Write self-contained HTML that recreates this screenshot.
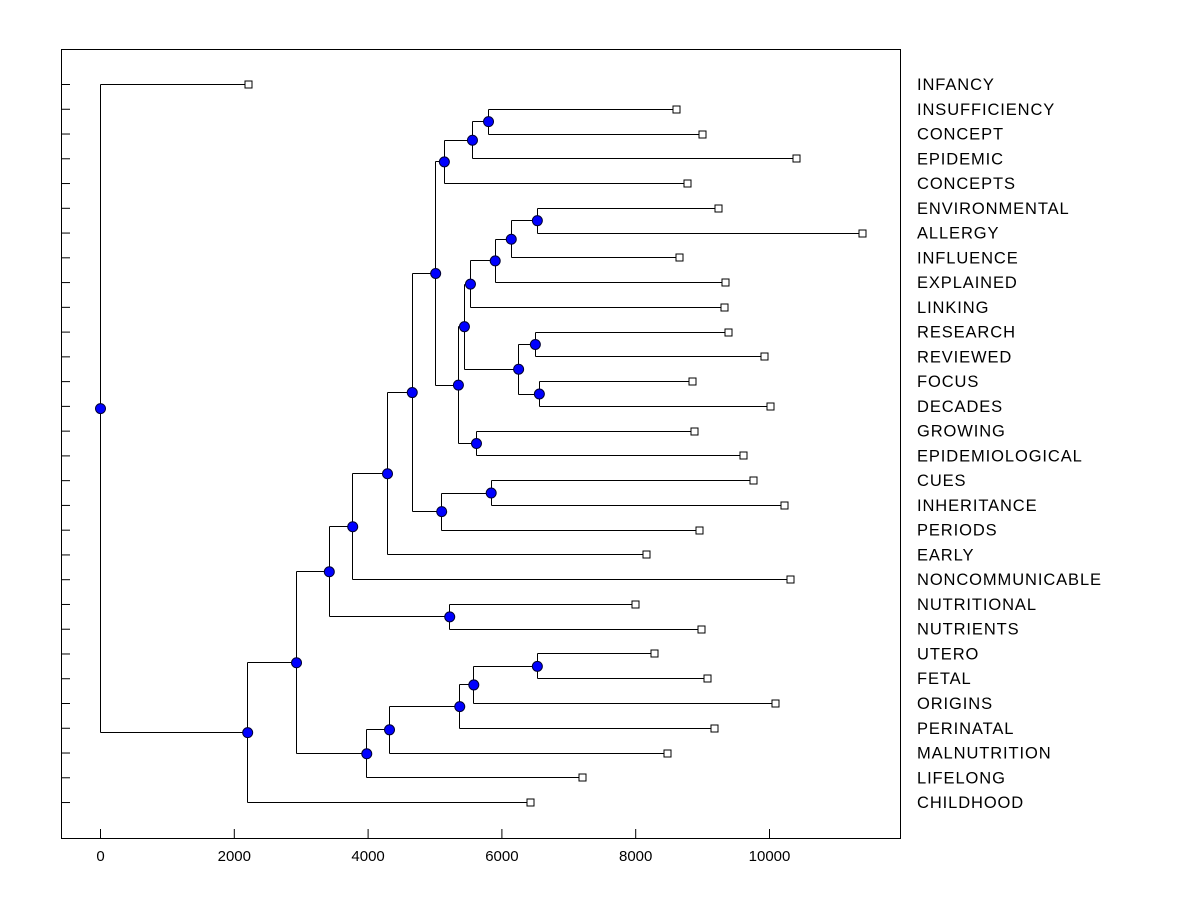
<!DOCTYPE html>
<html><head><meta charset="utf-8"><style>
body{margin:0;background:#fff;}
svg{display:block;font-family:"Liberation Sans",Arial,sans-serif;}
</style></head><body>
<svg id="chart" width="1200" height="900" viewBox="0 0 1200 900">
<rect x="61.5" y="49.5" width="839" height="789" fill="#fff" stroke="#000" stroke-width="1"/>
<g id="g"></g>
</svg>
<script>
const leaves = ["INFANCY","INSUFFICIENCY","CONCEPT","EPIDEMIC","CONCEPTS","ENVIRONMENTAL","ALLERGY","INFLUENCE","EXPLAINED","LINKING","RESEARCH","REVIEWED","FOCUS","DECADES","GROWING","EPIDEMIOLOGICAL","CUES","INHERITANCE","PERIODS","EARLY","NONCOMMUNICABLE","NUTRITIONAL","NUTRIENTS","UTERO","FETAL","ORIGINS","PERINATAL","MALNUTRITION","LIFELONG","CHILDHOOD"];
const leafValues = [2212,8610,9000,10400,8770,9240,11390,8650,9340,9330,9390,9930,8850,10010,8880,9610,9760,10220,8950,8160,10310,8000,8980,8280,9070,10090,9180,8480,7200,6430];
const nodeNames = ["N","M","K","U","T","S","Q","V","W","R","O","P","L","I","X","J","H","G","E","F","C","AB","AA","Z","Y","D","B","A","root"];
const nodeHeights = [5800,5560,5140,6530,6140,5900,5530,6500,6560,6250,5440,5620,5350,5010,5840,5100,4660,4290,3770,5220,3420,6530,5580,5370,4320,3980,2930,2200,0];
const nodeChildren = [["INSUFFICIENCY","CONCEPT"],["N","EPIDEMIC"],["M","CONCEPTS"],["ENVIRONMENTAL","ALLERGY"],["U","INFLUENCE"],["T","EXPLAINED"],["S","LINKING"],["RESEARCH","REVIEWED"],["FOCUS","DECADES"],["V","W"],["Q","R"],["GROWING","EPIDEMIOLOGICAL"],["O","P"],["K","L"],["CUES","INHERITANCE"],["X","PERIODS"],["I","J"],["H","EARLY"],["G","NONCOMMUNICABLE"],["NUTRITIONAL","NUTRIENTS"],["E","F"],["UTERO","FETAL"],["AB","ORIGINS"],["AA","PERINATAL"],["Z","MALNUTRITION"],["Y","LIFELONG"],["C","D"],["B","CHILDHOOD"],["INFANCY","A"]];
const xTicks = [0,2000,4000,6000,8000,10000];

const NS="http://www.w3.org/2000/svg";
const g=document.getElementById('g');
const xs=v=>100+v*0.0669;
const ys=i=>84+i*24.76;
function el(t,a){const e=document.createElementNS(NS,t);for(const k in a)e.setAttribute(k,a[k]);g.appendChild(e);return e;}
const pos={};
leaves.forEach((n,i)=>{pos[n]={x:xs(leafValues[i]),y:ys(i)};});
nodeNames.forEach((n,i)=>{const [a,b]=nodeChildren[i];pos[n]={x:xs(nodeHeights[i]),y:(pos[a].y+pos[b].y)/2};});
leaves.forEach((n,i)=>{
  const t=el('line',{x1:61,x2:70,y1:ys(i)+0.5,y2:ys(i)+0.5,stroke:'#000'});
  
  
  const l=el('text',{x:917,y:ys(i)+6,'font-size':16.5,'letter-spacing':'0.9',fill:'#000'});l.textContent=n;
  
  
});
xTicks.forEach(v=>{
  const t=el('line',{x1:xs(v)+0.5,x2:xs(v)+0.5,y1:829,y2:838,stroke:'#000'});
  
  
  const l=el('text',{x:xs(v)+0.5,y:861,'font-size':15,'text-anchor':'middle',fill:'#000'});l.textContent=v;
  
  
});
nodeNames.forEach((n,i)=>{
  const p=pos[n];const [a,b]=nodeChildren[i];
  const v=el('line',{x1:Math.round(p.x)+0.5,x2:Math.round(p.x)+0.5,y1:Math.round(pos[a].y)+0.5,y2:Math.round(pos[b].y)+0.5,stroke:'#000'});
  
  
  [a,b].forEach(c=>{
    const h=el('line',{x1:Math.round(p.x)+0.5,x2:Math.round(pos[c].x)+0.5,y1:Math.round(pos[c].y)+0.5,y2:Math.round(pos[c].y)+0.5,stroke:'#000'});
    
    
  });
});
leaves.forEach(n=>{
  const p=pos[n];
  const s=el('rect',{x:Math.round(p.x)-3,y:Math.round(p.y)-3,width:7,height:7,fill:'#fff',stroke:'#000'});
  
  
});
nodeNames.forEach(n=>{
  const p=pos[n];
  const c=el('circle',{cx:p.x+0.5,cy:p.y+0.5,r:5,fill:'#0000ff',stroke:'#000033','stroke-width':1});
  
  
});
</script>
</body></html>
